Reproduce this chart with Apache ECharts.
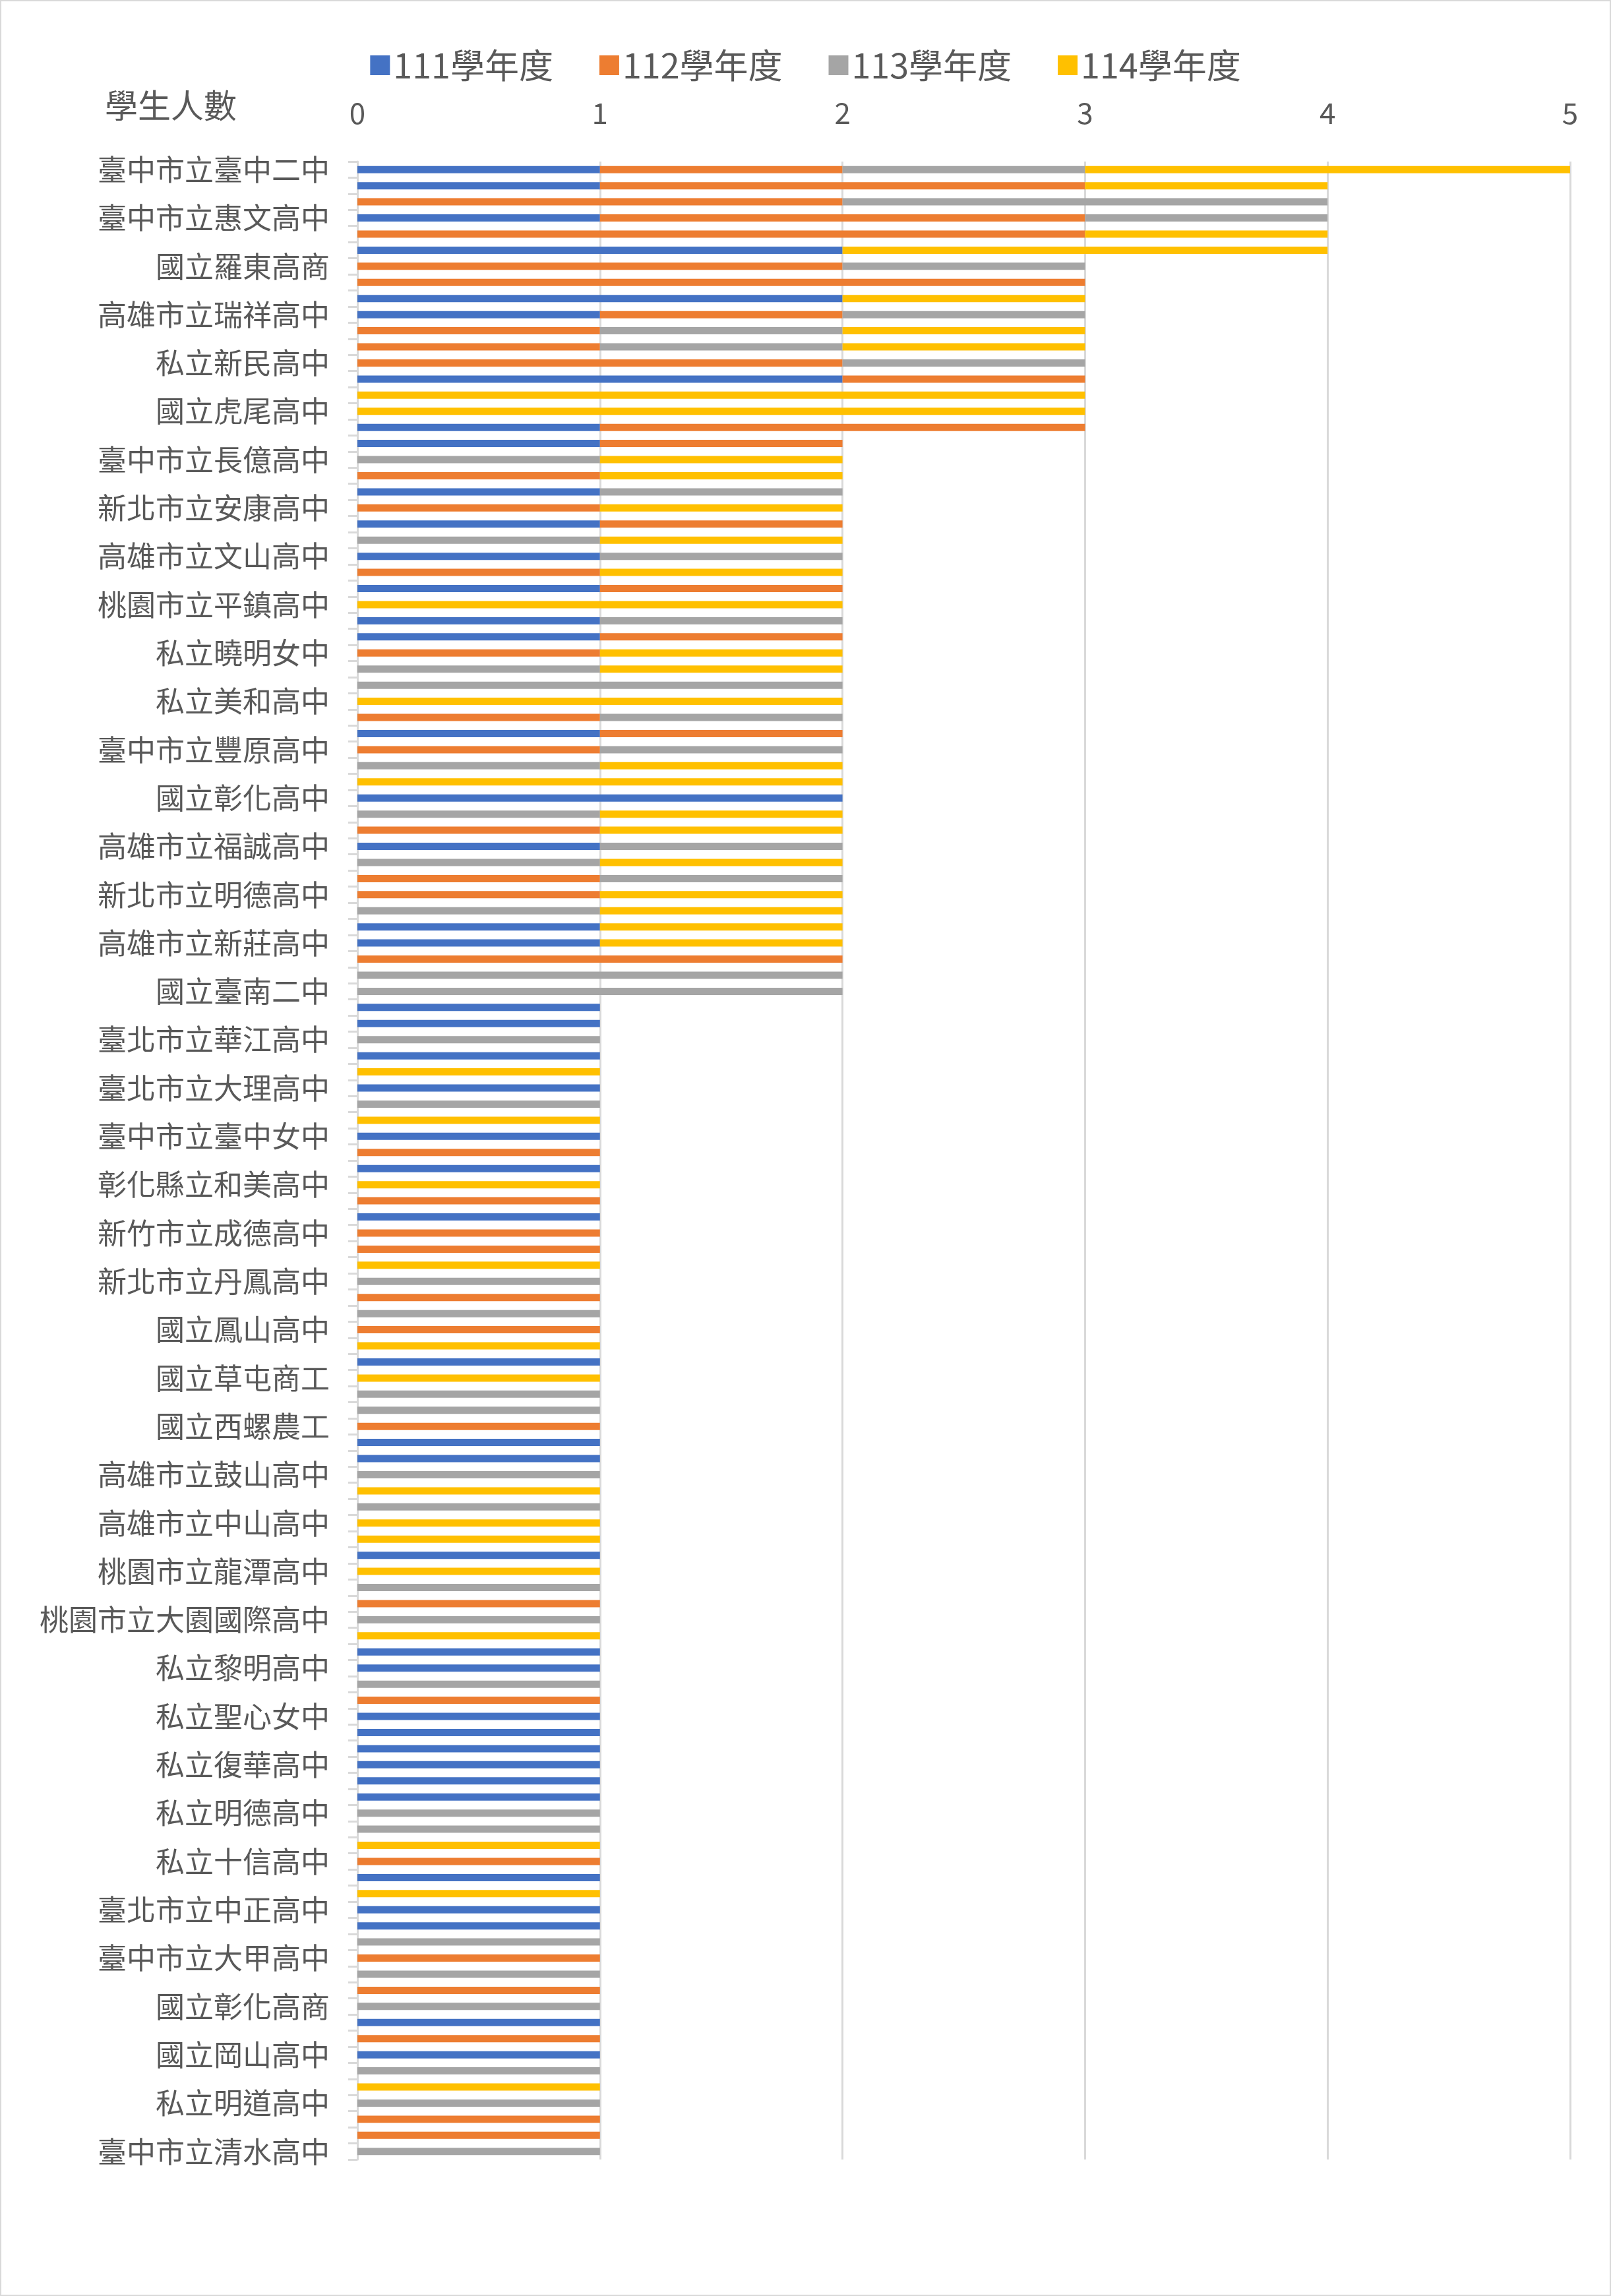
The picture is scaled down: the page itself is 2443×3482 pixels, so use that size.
<!DOCTYPE html>
<html><head><meta charset="utf-8">
<script src="https://cdn.jsdelivr.net/npm/echarts@6/dist/echarts.min.js"></script>
<style>html,body{margin:0;padding:0;background:#fff}#c{width:2439px;height:3478px;border:2px solid #d9d9d9}</style>
</head><body><div id="c"></div>
<script>
const labels = ['臺中市立臺中二中','臺中市立惠文高中','國立羅東高商','高雄市立瑞祥高中','私立新民高中','國立虎尾高中','臺中市立長億高中','新北市立安康高中','高雄市立文山高中','桃園市立平鎮高中','私立曉明女中','私立美和高中','臺中市立豐原高中','國立彰化高中','高雄市立福誠高中','新北市立明德高中','高雄市立新莊高中','國立臺南二中','臺北市立華江高中','臺北市立大理高中','臺中市立臺中女中','彰化縣立和美高中','新竹市立成德高中','新北市立丹鳳高中','國立鳳山高中','國立草屯商工','國立西螺農工','高雄市立鼓山高中','高雄市立中山高中','桃園市立龍潭高中','桃園市立大園國際高中','私立黎明高中','私立聖心女中','私立復華高中','私立明德高中','私立十信高中','臺北市立中正高中','臺中市立大甲高中','國立彰化高商','國立岡山高中','私立明道高中','臺中市立清水高中'];
const seriesNames = ['111學年度','112學年度','113學年度','114學年度'];
const xTicks = [0,1,2,3,4,5];
const s111 = [1,1,0,1,0,2,0,0,2,1,0,0,0,2,0,0,1,
 1,0,0,1,0,1,0,1,0,1,0,1,1,0,0,0,0,0,1,0,0,0,2,0,0,1,0,0,0,0,1,1,0,0,0,
 1,1,0,1,0,1,0,0,1,0,1,0,0,1,0,0,0,0,0,
 0,0,0,1,0,0,0,0,1,1,0,0,0,0,0,1,0,0,
 0,0,0,1,1,0,0,1,1,1,1,1,1,0,0,0,0,1,
 0,1,1,0,0,0,0,0,1,0,1,0,0,0,0,0,0];
const s112 = [1,2,2,2,3,0,2,3,0,1,1,1,2,1,0,0,2,
 1,0,1,0,1,1,0,0,1,1,0,0,1,1,0,0,0,1,1,1,0,0,0,0,1,0,0,1,1,0,0,0,2,0,0,
 0,0,0,0,0,0,0,0,0,1,0,0,1,0,1,1,0,0,1,
 0,1,0,0,0,0,0,1,0,0,0,0,0,0,0,0,0,0,
 1,0,0,0,0,0,1,0,0,0,0,0,0,0,0,0,1,0,
 0,0,0,0,1,0,1,0,0,1,0,0,0,0,1,1,0];
const s113 = [1,0,2,1,0,0,1,0,0,1,1,1,1,0,0,0,0,
 0,1,0,1,0,0,1,1,0,0,0,1,0,0,1,2,0,1,0,1,1,0,0,1,0,1,1,1,0,1,0,0,0,2,2,
 0,0,1,0,0,0,1,0,0,0,0,0,0,0,0,0,0,1,0,
 1,0,0,0,0,1,1,0,0,0,1,0,1,0,0,0,0,1,
 0,1,0,0,0,1,0,0,0,0,0,0,0,1,1,0,0,0,
 0,0,0,1,0,1,0,1,0,0,0,1,0,1,0,0,1];
const s114 = [2,1,0,0,1,2,0,0,1,0,1,1,0,0,3,3,0,
 0,1,1,0,1,0,1,0,1,0,2,0,0,1,1,0,2,0,0,0,1,2,0,1,1,0,1,0,1,1,1,1,0,0,0,
 0,0,0,0,1,0,0,1,0,0,0,1,0,0,0,0,1,0,0,
 0,0,1,0,1,0,0,0,0,0,0,1,0,1,1,0,1,0,
 0,0,1,0,0,0,0,0,0,0,0,0,0,0,0,1,0,0,
 1,0,0,0,0,0,0,0,0,0,0,0,1,0,0,0,0];
const colors = ['#4472C4','#ED7D31','#A5A5A5','#FFC000'];
const categories = s111.map((v,i)=> i%3===0 ? labels[i/3] : '');
const all = [s111,s112,s113,s114];
const chart = echarts.init(document.getElementById('c'));
const font = '"Noto Sans CJK TC","Noto Sans",sans-serif';
chart.setOption({
  animation:false,
  textStyle:{fontFamily:font},
  title:{text:'學生人數',left:152,top:128,textStyle:{fontSize:50,fontWeight:'normal',color:'#595959',fontFamily:font}},
  legend:{top:66,left:'center',itemWidth:30,itemHeight:30,itemGap:70,icon:'rect',
    textStyle:{fontSize:52,color:'#595959',fontFamily:font},data:seriesNames},
  grid:{left:540,right:60,top:243,bottom:3478-3273},
  xAxis:{type:'value',position:'top',min:0,max:5,interval:1,
    axisLine:{show:false},axisTick:{show:false},
    axisLabel:{fontSize:44,color:'#595959',margin:52,formatter:v=>xTicks.includes(v)?String(v):''},
    splitLine:{lineStyle:{color:'#d9d9d9',width:3}}},
  yAxis:{type:'category',inverse:true,data:categories,
    axisLine:{lineStyle:{color:'#d9d9d9',width:3}},
    axisTick:{show:true,interval:0,length:14,lineStyle:{color:'#d9d9d9',width:3}},
    axisLabel:{interval:0,fontSize:44,color:'#595959',margin:42}},
  series: all.map((d,k)=>({name:seriesNames[k],type:'bar',stack:'t',data:d,barWidth:11,
    itemStyle:{color:colors[k]}}))
});
</script></body></html>
